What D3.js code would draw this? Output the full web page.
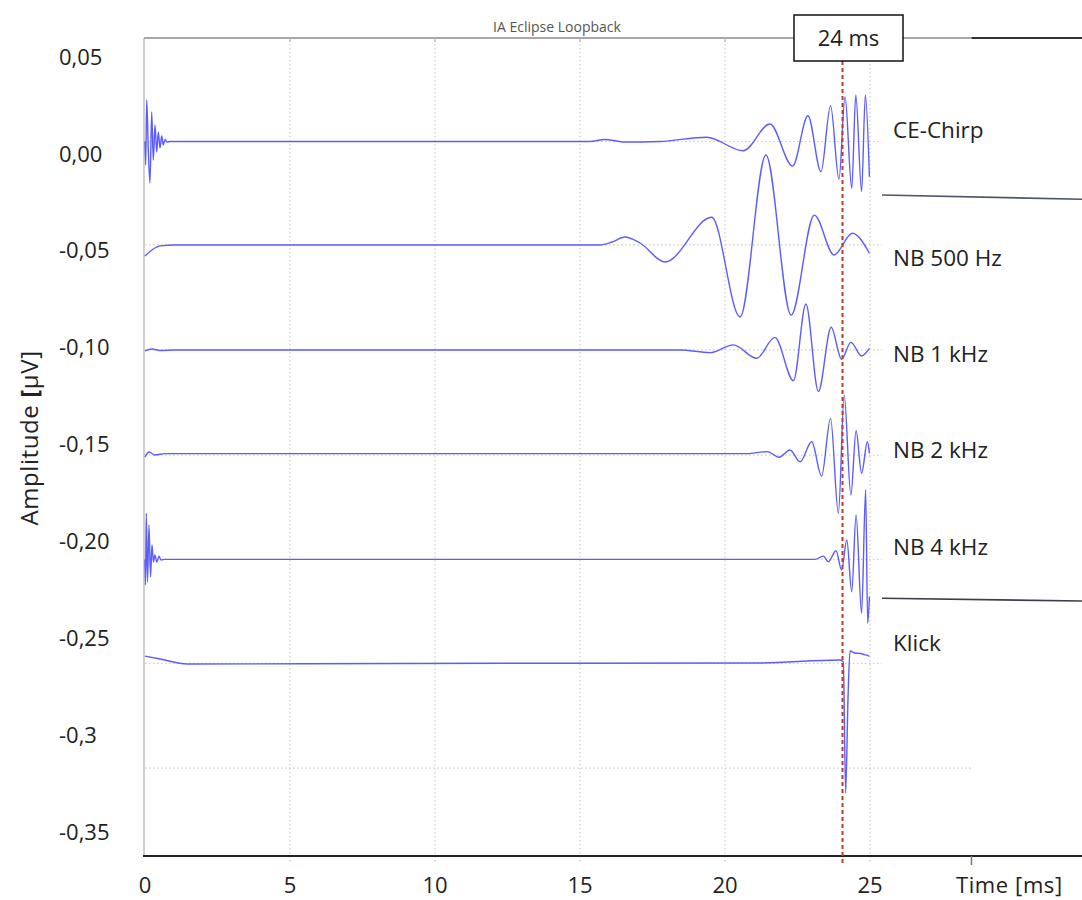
<!DOCTYPE html>
<html>
<head>
<meta charset="utf-8">
<title>IA Eclipse Loopback</title>
<script src="https://cdn.jsdelivr.net/npm/d3@7"></script>
<style>
  body { margin: 0; background: #fff; }
  #chart { width: 1082px; height: 900px; }
</style>
</head>
<body>
<div id="chart"></div>
<script>
// Series names (labels on the right)
const seriesNames = ["CE-Chirp", "NB 500 Hz", "NB 1 kHz", "NB 2 kHz", "NB 4 kHz", "Klick"];

// Amplitude where each series label sits
const labelAt = [0.0123, -0.0537, -0.1033, -0.1528, -0.2029, -0.2525];

// Time values [ms] and amplitudes [µV]
const ceChirpT = [0, 0.024, 0.059, 0.114, 0.172, 0.231, 0.286, 0.345, 0.403, 0.459, 0.517, 0.576, 0.631, 0.690, 0.759, 0.862,
  15.34, 15.86, 16.55, 17.76, 19.37, 20.63, 21.55, 22.33, 22.86, 23.31, 23.64, 23.93, 24.14, 24.37, 24.51, 24.71, 24.84, 24.98];
const ceChirpV = [0.0064, -0.0057, 0.0278, 0.0020, -0.0150, 0.0216, -0.0032, 0.0149, 0.0010, 0.0113, 0.0030, 0.0092, 0.0046, 0.0074, 0.0061, 0.0064,
  0.0064, 0.0074, 0.0061, 0.0064, 0.0086, 0.0016, 0.0154, -0.0063, 0.0197, -0.0092, 0.0249, -0.0131, 0.0295, -0.0178, 0.0304, -0.0195, 0.0304, -0.0118];

const nb500T = [0, 0.24, 0.52, 1.03, 15.69, 16.10, 16.55, 17.07, 17.93, 19.54, 20.52, 21.41, 22.28, 23.08, 23.76, 24.39, 24.98];
const nb500V = [-0.0527, -0.0496, -0.0475, -0.0470, -0.0470, -0.0455, -0.0429, -0.0460, -0.0558, -0.0327, -0.0842, -0.0006, -0.0832, -0.0316, -0.0522, -0.0410, -0.0513];

const nb1kT = [0, 0.24, 0.52, 1.03, 18.45, 19.48, 20.29, 21.09, 21.72, 22.36, 22.79, 23.22, 23.66, 24.02, 24.34, 24.71, 24.98];
const nb1kV = [-0.1017, -0.1007, -0.1015, -0.1012, -0.1012, -0.1026, -0.0986, -0.1055, -0.0947, -0.1171, -0.0775, -0.1227, -0.0895, -0.1060, -0.0973, -0.1043, -0.1004];

const nb2kT = [0, 0.14, 0.34, 0.69, 20.75, 21.46, 21.87, 22.24, 22.59, 22.99, 23.33, 23.64, 23.91, 24.11, 24.34, 24.52, 24.71, 24.91, 24.98];
const nb2kV = [-0.1565, -0.1539, -0.1554, -0.1547, -0.1547, -0.1537, -0.1566, -0.1528, -0.1589, -0.1486, -0.1663, -0.1365, -0.1855, -0.1245, -0.1761, -0.1429, -0.1649, -0.1486, -0.1545];

const nb4kT = [0, 0.017, 0.045, 0.086, 0.138, 0.19, 0.24, 0.29, 0.34, 0.41, 0.48, 0.55, 0.69,
  23.10, 23.39, 23.56, 23.83, 24.02, 24.20, 24.37, 24.52, 24.71, 24.85, 24.92, 24.98];
const nb4kV = [-0.2093, -0.2225, -0.1854, -0.2210, -0.1916, -0.2184, -0.2019, -0.2107, -0.2070, -0.2107, -0.2076, -0.2096, -0.2093,
  -0.2093, -0.2076, -0.2105, -0.2048, -0.2148, -0.1993, -0.2260, -0.1864, -0.2371, -0.1735, -0.2423, -0.2286];

const klickT = [0, 0.52, 1.45, 8.79, 21.10, 23.97, 24.08, 24.16, 24.24, 24.31, 24.48, 24.66, 24.98];
const klickV = [-0.2592, -0.2607, -0.2633, -0.2630, -0.2628, -0.2612, -0.2623, -0.3299, -0.2819, -0.2566, -0.2576, -0.2579, -0.2592];

// Horizontal grid lines (trace baselines) and axis ticks
const gridV = [0.0064, -0.0470, -0.1012, -0.1555, -0.2093, -0.2630, -0.3170];
const yTicks = [0.05, 0, -0.05, -0.10, -0.15, -0.20, -0.25, -0.3, -0.35];
const yTickLabels = ["0,05", "0,00", "-0,05", "-0,10", "-0,15", "-0,20", "-0,25", "-0,3", "-0,35"];
const xTicks = [0, 5, 10, 15, 20, 25];
const markerTime = 24;

const seriesT = [ceChirpT, nb500T, nb1kT, nb2kT, nb4kT, klickT];
const seriesV = [ceChirpV, nb500V, nb1kV, nb2kV, nb4kV, klickV];

const W = 1082, H = 900;
const font = "'Open Sans', 'Noto Sans', sans-serif";

const svg = d3.select("#chart")
  .append("svg")
  .attr("width", W)
  .attr("height", H)
  .style("font-family", font);

// Scales
const x = d3.scaleLinear().domain([0, 25]).range([145, 870]);
const y = d3.scaleLinear().domain([-0.35, 0.05]).range([832, 57]);
const frameTop = 38, frameBottom = 856;

// Vertical grid lines (dotted)
svg.append("g")
  .selectAll("line")
  .data(xTicks.slice(1))
  .enter()
  .append("line")
  .attr("x1", d => x(d)).attr("x2", d => x(d))
  .attr("y1", frameTop + 2).attr("y2", frameBottom + 8)
  .attr("stroke", "#cccccc")
  .attr("stroke-width", 1.2)
  .attr("stroke-dasharray", "1.5,2.5");

// Horizontal grid lines (dotted)
svg.append("g")
  .selectAll("line")
  .data(gridV)
  .enter()
  .append("line")
  .attr("x1", x(0)).attr("x2", (d, i) => i === gridV.length - 1 ? x(28.5) : x(25.4))
  .attr("y1", d => y(d)).attr("y2", d => y(d))
  .attr("stroke", "#cccccc")
  .attr("stroke-width", 1.2)
  .attr("stroke-dasharray", "1.5,2.5");

// Frame: left axis and top line
svg.append("line")
  .attr("x1", 144).attr("x2", 144).attr("y1", frameTop).attr("y2", frameBottom)
  .attr("stroke", "#cfcfcf").attr("stroke-width", 2);

svg.append("line")
  .attr("x1", 144).attr("x2", x(28.5)).attr("y1", frameTop).attr("y2", frameTop)
  .attr("stroke", "#a8a8a8").attr("stroke-width", 2);

svg.append("line")
  .attr("x1", x(28.5)).attr("x2", W).attr("y1", frameTop).attr("y2", frameTop)
  .attr("stroke", "#333").attr("stroke-width", 2);

// Small top ticks
svg.append("g")
  .selectAll("line")
  .data(xTicks.slice(1))
  .enter()
  .append("line")
  .attr("x1", d => x(d)).attr("x2", d => x(d))
  .attr("y1", frameTop).attr("y2", frameTop + 4)
  .attr("stroke", "#b0b0b0");

// Title
svg.append("text")
  .attr("x", 557)
  .attr("y", 32)
  .attr("text-anchor", "middle")
  .style("font-size", "14px")
  .style("fill", "#555")
  .text("IA Eclipse Loopback");

// Bottom axis line and extra tick
svg.append("line")
  .attr("x1", 143).attr("x2", W).attr("y1", frameBottom).attr("y2", frameBottom)
  .attr("stroke", "#222").attr("stroke-width", 2);

svg.append("line")
  .attr("x1", x(28.5)).attr("x2", x(28.5)).attr("y1", frameBottom).attr("y2", frameBottom + 9)
  .attr("stroke", "#777").attr("stroke-width", 1.5);

// X tick labels
svg.append("g")
  .selectAll("text")
  .data(xTicks)
  .enter()
  .append("text")
  .attr("x", d => x(d))
  .attr("y", 893)
  .attr("text-anchor", "middle")
  .style("font-size", "22px")
  .style("fill", "#222")
  .text(d => d);

svg.append("text")
  .attr("x", 956)
  .attr("y", 893)
  .style("font-size", "22px")
  .style("letter-spacing", "0.6px")
  .style("fill", "#222")
  .text("Time [ms]");

// Y tick labels (left aligned)
svg.append("g")
  .selectAll("text")
  .data(yTicks)
  .enter()
  .append("text")
  .attr("x", 59)
  .attr("y", d => y(d))
  .attr("dy", "0.35em")
  .style("font-size", "22px")
  .style("fill", "#222")
  .text((d, i) => yTickLabels[i]);

// Y axis title
const yTitle = svg.append("text")
  .attr("transform", "translate(38,438) rotate(-90)")
  .attr("text-anchor", "middle")
  .style("font-size", "24px")
  .style("letter-spacing", "0.6px")
  .style("fill", "#222");
yTitle.append("tspan").text("Amplitude ");
yTitle.append("tspan").style("font-weight", "bold").text("[");
yTitle.append("tspan").text("µV]");

// Separator lines on the right
svg.append("line")
  .attr("x1", 882).attr("x2", W).attr("y1", 195).attr("y2", 199.3)
  .attr("stroke", "#4b5666").attr("stroke-width", 1.6);

svg.append("line")
  .attr("x1", 882).attr("x2", W).attr("y1", 598.3).attr("y2", 601)
  .attr("stroke", "#3a3f48").attr("stroke-width", 1.6);

// Waveforms
const line = d3.line()
  .x(d => x(d[0]))
  .y(d => y(d[1]))
  .curve(d3.curveMonotoneX);

svg.append("g")
  .selectAll("path")
  .data(seriesT.map((ts, i) => ts.map((t, j) => [t, seriesV[i][j]])))
  .enter()
  .append("path")
  .attr("d", line)
  .attr("fill", "none")
  .attr("stroke", "#5c5cff")
  .attr("stroke-width", 1.4);

// Series labels
svg.append("g")
  .selectAll("text")
  .data(seriesNames)
  .enter()
  .append("text")
  .attr("x", 893)
  .attr("y", (d, i) => y(labelAt[i]))
  .attr("dy", "0.35em")
  .style("font-size", "22.5px")
  .style("fill", "#222")
  .text(d => d);

// 24 ms marker
svg.append("line")
  .attr("x1", x(markerTime) + 1.5).attr("x2", x(markerTime) + 1.5)
  .attr("y1", 61).attr("y2", frameBottom + 9)
  .attr("stroke", "#c0392b")
  .attr("stroke-width", 2)
  .attr("stroke-dasharray", "4,3");

svg.append("rect")
  .attr("x", 794).attr("y", 15)
  .attr("width", 109).attr("height", 46)
  .attr("fill", "#fff")
  .attr("stroke", "#111")
  .attr("stroke-width", 1.5);

svg.append("text")
  .attr("x", 848.5)
  .attr("y", 38)
  .attr("dy", "0.35em")
  .attr("text-anchor", "middle")
  .style("font-size", "22px")
  .style("fill", "#222")
  .text(markerTime + " ms");
</script>
</body>
</html>
